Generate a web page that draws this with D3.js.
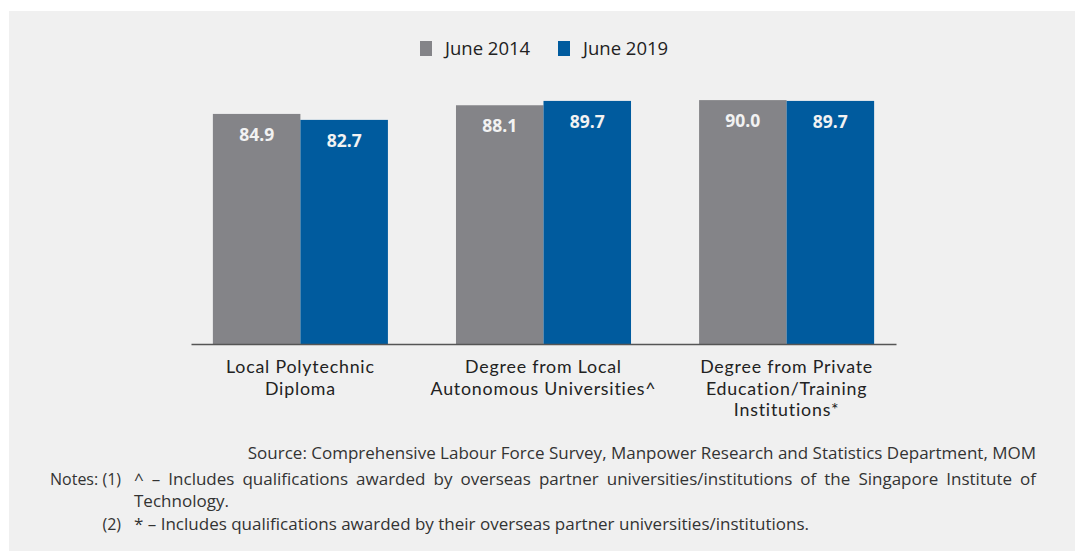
<!DOCTYPE html>
<html>
<head>
<meta charset="utf-8">
<script src="https://cdn.jsdelivr.net/npm/d3@7"></script>
<style>
  html, body { margin: 0; padding: 0; background: #ffffff; }
  svg { display: block; }
  text { font-family: "Open Sans", "Noto Sans", sans-serif; }
  text.cat { font-family: Lato, "Open Sans", sans-serif; letter-spacing: 0.8px; }
</style>
</head>
<body>
<svg id="chart" width="1075" height="551"></svg>
<script>
// Categories (multi-line labels) and series
const categories = [
  ["Local Polytechnic", "Diploma"],
  ["Degree from Local", "Autonomous Universities^"],
  ["Degree from Private", "Education/Training", "Institutions*"]
];
const seriesNames = ["June 2014", "June 2019"];
const june2014 = [84.9, 88.1, 90.0];
const june2019 = [82.7, 89.7, 89.7];
const seriesColors = ["#848488", "#005b9e"];

const sourceText = "Source: Comprehensive Labour Force Survey, Manpower Research and Statistics Department, MOM";
const note1 = "^ \u2013 Includes qualifications awarded by overseas partner universities/institutions of the Singapore Institute of";
const note1b = "Technology.";
const note2 = "* \u2013 Includes qualifications awarded by their overseas partner universities/institutions.";

const svg = d3.select("#chart");

// panel background
svg.append("rect").attr("x", 9).attr("y", 11).attr("width", 1066).attr("height", 540).attr("fill", "#f0f0f0");

const rows = categories.map((c, i) => ({ idx: i, label: c, values: [june2014[i], june2019[i]] }));

const x0 = d3.scaleBand().domain(rows.map(d => d.idx)).range([191, 896]).paddingInner(0.28).paddingOuter(0.09);
const x1 = d3.scaleBand().domain([0, 1]).range([0, x0.bandwidth()]);
const y = d3.scaleLinear().domain([0, 100]).range([344, 73]);

// bars
const groups = svg.append("g").selectAll("g").data(rows).join("g")
  .attr("transform", d => `translate(${x0(d.idx)},0)`);

groups.selectAll("rect").data(d => d.values.map((v, s) => ({ v, s }))).join("rect")
  .attr("x", d => x1(d.s))
  .attr("y", d => y(d.v))
  .attr("width", x1.bandwidth())
  .attr("height", d => y(0) - y(d.v))
  .attr("fill", d => seriesColors[d.s]);

groups.selectAll("text.val").data(d => d.values.map((v, s) => ({ v, s }))).join("text")
  .attr("class", "val")
  .attr("x", d => x1(d.s) + x1.bandwidth() / 2)
  .attr("y", d => y(d.v) + 27)
  .attr("text-anchor", "middle")
  .attr("fill", "#f2f2f2")
  .attr("font-size", 17.5)
  .attr("font-weight", 700)
  .text(d => d3.format(".1f")(d.v));

// baseline axis
const xAxis = d3.axisBottom(x0).tickSize(0).tickFormat("");
const axisG = svg.append("g").attr("transform", `translate(0,${y(0)})`).call(xAxis);
axisG.select(".domain").attr("stroke", "#555").attr("stroke-width", 1.5);

// category labels, one text per line
const catG = svg.append("g");
rows.forEach(d => {
  const cx = x0(d.idx) + x0.bandwidth() / 2;
  d.label.forEach((line, k) => {
    catG.append("text")
      .attr("class", "cat")
      .attr("x", cx)
      .attr("y", 373 + k * 21.5)
      .attr("text-anchor", "middle")
      .attr("font-size", 17.8)
      .attr("fill", "#222")
      .text(line);
  });
});

// legend
const legend = svg.append("g");
const legendX = [420, 558];
seriesNames.forEach((name, i) => {
  legend.append("rect").attr("x", legendX[i]).attr("y", 41).attr("width", 12).attr("height", 15).attr("fill", seriesColors[i]);
  legend.append("text").attr("x", legendX[i] + 25).attr("y", 55).attr("font-size", 18.5).attr("fill", "#222").text(name);
});

// source and notes
const noteSize = 17;
const noteColor = "#333";
svg.append("text").attr("x", 1036).attr("y", 459).attr("text-anchor", "end")
  .attr("font-size", noteSize).attr("fill", noteColor).text(sourceText);

svg.append("text").attr("x", 50).attr("y", 485).attr("font-size", 16).attr("fill", noteColor).text("Notes:");
svg.append("text").attr("x", 121).attr("y", 485).attr("text-anchor", "end").attr("font-size", 16).attr("fill", noteColor).text("(1)");
svg.append("text").attr("x", 121).attr("y", 530).attr("text-anchor", "end").attr("font-size", 16).attr("fill", noteColor).text("(2)");

// justified first note line: words spread between left and right edges
function justify(str, xa, xb, yy) {
  const words = str.split(" ");
  const g = svg.append("g");
  const nodes = words.map(w => g.append("text").attr("y", yy).attr("font-size", noteSize).attr("fill", noteColor).text(w));
  const widths = nodes.map(n => n.node().getComputedTextLength());
  const total = d3.sum(widths);
  const gap = (xb - xa - total) / (words.length - 1);
  let cx = xa;
  nodes.forEach((n, i) => { n.attr("x", cx); cx += widths[i] + gap; });
}
justify(note1, 134, 1036, 485);
svg.append("text").attr("x", 134).attr("y", 507).attr("font-size", noteSize).attr("fill", noteColor).text(note1b);
svg.append("text").attr("x", 134).attr("y", 530).attr("font-size", noteSize).attr("fill", noteColor).text(note2);
</script>
</body>
</html>
